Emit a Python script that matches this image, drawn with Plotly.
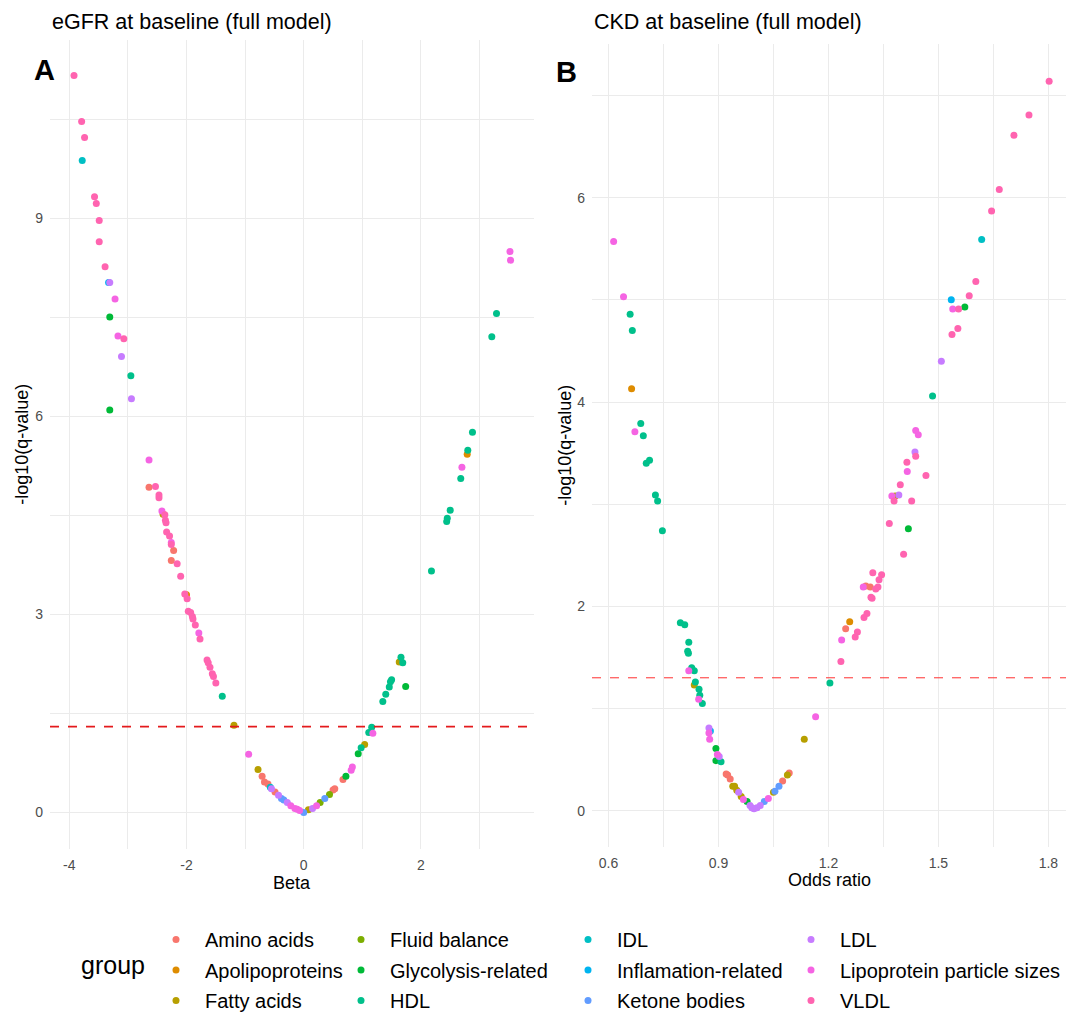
import plotly.graph_objects as go

# ---------------- groups & colours (ggplot2 hue palette) ----------------
GROUPS = ["Amino acids", "Apolipoproteins", "Fatty acids", "Fluid balance",
          "Glycolysis-related", "HDL", "IDL", "Inflamation-related",
          "Ketone bodies", "LDL", "Lipoprotein particle sizes", "VLDL"]
COLORS = ["#F8766D", "#DE8C00", "#B79F00", "#7CAE00", "#00BA38", "#00C08B",
          "#00BFC4", "#00B4F0", "#619CFF", "#C77CFF", "#F564E3", "#FF64B0"]
CODES = {"AA": "Amino acids", "APO": "Apolipoproteins", "FA": "Fatty acids",
         "FB": "Fluid balance", "GLY": "Glycolysis-related", "HDL": "HDL",
         "IDL": "IDL", "INF": "Inflamation-related", "KET": "Ketone bodies",
         "LDL": "LDL", "LPS": "Lipoprotein particle sizes", "VLDL": "VLDL"}

Q_THRESHOLD = 1.301  # -log10(0.05)

# ---------------- panel A: eGFR at baseline ----------------
egfr_beta = [-3.92, -3.79, -3.74, -3.78, -3.57, -3.54, -3.49, -3.49, -3.39, -3.33,
             -3.31, -3.22, -3.31, -3.17, -3.07, -3.11, -2.95, -2.94, -3.31, -2.64,
             -2.64, -2.53, -2.47, -2.47, -2.42, -2.40, -2.37, -2.36, -2.35, -2.34,
             -2.29, -2.26, -2.26, -2.22, -2.26, -2.16, -2.10, -2.03, -2.00, -1.99,
             -1.97, -1.93, -1.90, -1.89, -1.85, -1.79, -1.77, -1.65, -1.63, -1.60,
             -1.56, -1.54, -1.50, -1.39, -1.19, -0.94, -0.78, -0.71, -0.67, -0.61,
             -0.57, -0.55, -0.49, -0.43, -0.38, -0.34, -0.28, -0.22, -0.15, -0.11,
             -0.07, 0.00, 0.08, 0.15, 0.22, 0.28, 0.36, 0.44, 0.50, 0.53,
             0.67, 0.72, 0.81, 0.83, 0.93, 0.98, 1.04, 1.11, 1.16, 1.18,
             1.35, 1.40, 1.46, 1.48, 1.50, 1.66, 1.63, 1.69, 1.74, 2.18,
             2.44, 2.45, 2.50, 2.68, 2.70, 2.79, 2.80, 2.88, 3.21, 3.29,
             3.52, 3.53]
egfr_logq = [11.17, 10.47, 10.23, 9.88, 9.33, 9.23, 8.97, 8.65, 8.27, 8.03,
             8.03, 7.78, 7.51, 7.22, 7.18, 6.91, 6.62, 6.27, 6.10, 5.34,
             4.93, 4.94, 4.81, 4.77, 4.57, 4.52, 4.51, 4.43, 4.39, 4.25,
             4.19, 4.09, 4.06, 3.97, 3.82, 3.77, 3.58, 3.31, 3.30, 3.24,
             3.05, 3.03, 2.97, 2.93, 2.84, 2.72, 2.63, 2.31, 2.27, 2.20,
             2.10, 2.06, 1.96, 1.76, 1.32, 0.88, 0.65, 0.55, 0.46, 0.43,
             0.38, 0.36, 0.31, 0.26, 0.21, 0.19, 0.15, 0.10, 0.06, 0.05,
             0.03, 0.00, 0.04, 0.06, 0.10, 0.15, 0.21, 0.27, 0.34, 0.36,
             0.50, 0.55, 0.64, 0.69, 0.89, 0.98, 1.03, 1.21, 1.29, 1.20,
             1.68, 1.79, 1.90, 1.98, 2.01, 2.35, 2.28, 2.27, 1.91, 3.66,
             4.41, 4.46, 4.58, 5.06, 5.23, 5.43, 5.49, 5.76, 7.21, 7.56,
             8.50, 8.37]
egfr_group = ["VLDL", "VLDL", "VLDL", "IDL", "VLDL", "VLDL", "VLDL", "VLDL", "VLDL", "INF",
              "LDL", "LPS", "GLY", "LPS", "VLDL", "LDL", "HDL", "LDL", "GLY", "LPS",
              "AA", "VLDL", "VLDL", "VLDL", "LPS", "FA", "VLDL", "VLDL", "VLDL", "VLDL",
              "VLDL", "LPS", "VLDL", "AA", "AA", "VLDL", "VLDL", "VLDL", "APO", "VLDL",
              "VLDL", "VLDL", "VLDL", "VLDL", "VLDL", "LPS", "VLDL", "VLDL", "VLDL", "VLDL",
              "VLDL", "VLDL", "VLDL", "HDL", "FA", "LPS", "FA", "AA", "AA", "AA",
              "IDL", "LDL", "AA", "LDL", "KET", "KET", "LDL", "LPS", "LPS", "LPS",
              "LPS", "KET", "FA", "LDL", "LPS", "FB", "KET", "FB", "AA", "AA",
              "AA", "GLY", "LPS", "LPS", "GLY", "HDL", "FA", "HDL", "HDL", "LPS",
              "HDL", "HDL", "HDL", "HDL", "HDL", "HDL", "FA", "HDL", "GLY", "HDL",
              "HDL", "HDL", "HDL", "HDL", "LPS", "APO", "HDL", "HDL", "HDL", "HDL",
              "LPS", "LPS"]

# ---------------- panel B: CKD at baseline ----------------
ckd_or = [1.802, 1.747, 1.706, 1.666, 1.645, 1.618, 1.602, 1.584, 1.535, 1.539,
          1.555, 1.572, 1.553, 1.537, 1.508, 1.484, 1.438, 1.445, 1.436, 1.438,
          1.414, 1.415, 1.466, 1.396, 1.373, 1.382, 1.392, 1.379, 1.427, 1.366,
          1.418, 1.405, 1.321, 1.345, 1.338, 1.295, 1.302, 1.314, 1.329, 1.335,
          1.316, 1.319, 1.305, 1.297, 1.258, 1.247, 1.279, 1.273, 1.236, 1.234,
          1.204, 1.165, 1.134, 1.093, 1.088, 1.075, 1.065, 1.054, 1.050, 1.036,
          1.025, 1.014, 1.005, 0.997, 0.991, 0.986, 0.978, 0.968, 0.962, 0.955,
          0.950, 0.944, 0.939, 0.932, 0.925, 0.921, 0.907, 0.893, 0.902, 0.897,
          0.893, 0.876, 0.874, 0.878, 0.874, 0.856, 0.846, 0.849, 0.847, 0.834,
          0.837, 0.834, 0.827, 0.819, 0.818, 0.816, 0.819, 0.614, 0.641, 0.659,
          0.665, 0.663, 0.688, 0.672, 0.695, 0.703, 0.712, 0.728, 0.734, 0.747,
          0.796, 0.808]
ckd_logq = [7.14, 6.81, 6.61, 6.08, 5.87, 5.59, 5.18, 5.04, 5.00, 4.91,
            4.91, 4.93, 4.72, 4.66, 4.40, 4.06, 3.72, 3.68, 3.51, 3.47,
            3.41, 3.32, 3.28, 3.19, 3.08, 3.08, 3.09, 3.03, 3.03, 2.81,
            2.76, 2.51, 2.33, 2.31, 2.26, 2.19, 2.20, 2.19, 2.17, 2.19,
            2.09, 2.08, 1.93, 1.89, 1.85, 1.78, 1.75, 1.70, 1.67, 1.46,
            1.25, 0.92, 0.70, 0.37, 0.35, 0.29, 0.24, 0.19, 0.18, 0.12,
            0.09, 0.05, 0.03, 0.02, 0.03, 0.05, 0.09, 0.11, 0.14, 0.18,
            0.20, 0.24, 0.24, 0.31, 0.35, 0.36, 0.48, 0.49, 0.53, 0.55,
            0.61, 0.70, 0.76, 0.78, 0.81, 1.05, 1.09, 1.13, 1.19, 1.23,
            1.26, 1.37, 1.40, 1.37, 1.54, 1.56, 1.65, 5.57, 5.03, 4.86,
            4.70, 4.13, 3.79, 3.71, 3.67, 3.40, 3.43, 3.09, 3.03, 2.74,
            1.84, 1.82]
ckd_group = ["VLDL", "VLDL", "VLDL", "VLDL", "VLDL", "IDL", "VLDL", "VLDL", "INF", "LPS",
             "VLDL", "GLY", "VLDL", "VLDL", "LDL", "HDL", "LPS", "LPS", "LDL", "VLDL",
             "VLDL", "LPS", "VLDL", "VLDL", "LPS", "FA", "LDL", "VLDL", "VLDL", "VLDL",
             "GLY", "VLDL", "VLDL", "VLDL", "VLDL", "LPS", "AA", "AA", "VLDL", "VLDL",
             "VLDL", "VLDL", "VLDL", "VLDL", "APO", "AA", "VLDL", "VLDL", "LPS", "VLDL",
             "HDL", "LPS", "FA", "AA", "FA", "AA", "KET", "KET", "FA", "LPS",
             "KET", "LDL", "LDL", "LDL", "LDL", "LDL", "GLY", "LPS", "FA", "LDL",
             "FA", "FA", "FA", "AA", "AA", "AA", "HDL", "GLY", "LDL", "LPS",
             "GLY", "LPS", "LPS", "INF", "LDL", "HDL", "LPS", "HDL", "HDL", "FA",
             "HDL", "HDL", "HDL", "LPS", "HDL", "HDL", "HDL", "LPS", "LPS", "HDL",
             "HDL", "APO", "HDL", "LPS", "HDL", "HDL", "HDL", "HDL", "HDL", "HDL",
             "HDL", "HDL"]

A_XTICKS = [-4, -2, 0, 2]
A_YTICKS = [0, 3, 6, 9]
B_XTICKS = [0.6, 0.9, 1.2, 1.5, 1.8]
B_YTICKS = [0, 2, 4, 6]

FONT = "Liberation Sans, Arial, sans-serif"
W, H = 1066, 1020

fig = go.Figure()

legend_names = ["legend", "legend2", "legend3", "legend4"]


def add_panel(xs, ys, gs, xaxis, yaxis, show):
    for gi, gname in enumerate(GROUPS):
        px = [x for x, g in zip(xs, gs) if CODES[g] == gname]
        py = [y for y, g in zip(ys, gs) if CODES[g] == gname]
        fig.add_trace(go.Scatter(
            x=px, y=py, mode="markers", name=gname, legendgroup=gname,
            legend=legend_names[gi // 3], showlegend=show,
            marker=dict(color=COLORS[gi], size=7, line=dict(width=0)),
            xaxis=xaxis, yaxis=yaxis))


add_panel(egfr_beta, egfr_logq, egfr_group, "x", "y", True)
add_panel(ckd_or, ckd_logq, ckd_group, "x2", "y2", False)

grid_major = dict(showgrid=True, gridcolor="#EBEBEB", gridwidth=1.2, zeroline=False,
                  showline=False, ticks="", automargin=False,
                  tickfont=dict(family=FONT, size=14, color="#4D4D4D"))


def px2paper_x(p):
    return p / W


def px2paper_y(p):
    return 1 - p / H


fig.update_layout(
    width=W, height=H, margin=dict(l=0, r=0, t=0, b=0),
    paper_bgcolor="white", plot_bgcolor="white",
    font=dict(family=FONT, color="black"),
    xaxis=dict(domain=[px2paper_x(50), px2paper_x(534)], range=[-4.33, 3.93],
               tickvals=A_XTICKS, ticktext=[str(v) for v in A_XTICKS],
               minor=dict(dtick=1, tick0=0, showgrid=True, gridcolor="#EBEBEB", gridwidth=0.6),
               ticklabelstandoff=6, anchor="y", **grid_major),
    yaxis=dict(domain=[px2paper_y(861), px2paper_y(41)], range=[-0.557, 11.70],
               tickvals=A_YTICKS, ticktext=[str(v) for v in A_YTICKS],
               minor=dict(dtick=1.5, tick0=0, showgrid=True, gridcolor="#EBEBEB", gridwidth=0.6),
               ticklabelstandoff=6, anchor="x", **grid_major),
    xaxis2=dict(domain=[px2paper_x(592), 1.0], range=[0.555, 1.848],
                tickvals=B_XTICKS, ticktext=[f"{v:.1f}" for v in B_XTICKS],
                minor=dict(dtick=0.15, tick0=0, showgrid=True, gridcolor="#EBEBEB", gridwidth=0.6),
                ticklabelstandoff=6, anchor="y2", **grid_major),
    yaxis2=dict(domain=[px2paper_y(859), px2paper_y(45)], range=[-0.357, 7.50],
                tickvals=B_YTICKS, ticktext=[str(v) for v in B_YTICKS],
                minor=dict(dtick=1, tick0=0, showgrid=True, gridcolor="#EBEBEB", gridwidth=0.6),
                ticklabelstandoff=6, anchor="x2", **grid_major),
    showlegend=True,
)

# threshold lines
fig.add_shape(type="line", xref="x domain", yref="y", x0=0, x1=1,
              y0=Q_THRESHOLD, y1=Q_THRESHOLD, line=dict(color="#E41A1C", width=1.6, dash="dash"))
fig.add_shape(type="line", xref="x2 domain", yref="y2", x0=0, x1=1,
              y0=Q_THRESHOLD, y1=Q_THRESHOLD, line=dict(color="#FF3030", width=1.0, dash="dash"))

# legends: 4 columns of 3 entries
leg_x = [147, 332, 559, 782]
for i, ln in enumerate(legend_names):
    fig.update_layout({ln: dict(
        x=px2paper_x(leg_x[i]), y=px2paper_y(933), xanchor="left", yanchor="top",
        orientation="v", bgcolor="rgba(0,0,0,0)", borderwidth=0,
        font=dict(family=FONT, size=20, color="black"),
        itemwidth=48, tracegroupgap=1.5, traceorder="grouped")})

ann = [
    dict(text="eGFR at baseline (full model)", x=px2paper_x(50), y=px2paper_y(22),
         xanchor="left", yanchor="middle", font=dict(size=21.5)),
    dict(text="CKD at baseline (full model)", x=px2paper_x(592), y=px2paper_y(22),
         xanchor="left", yanchor="middle", font=dict(size=21.5)),
    dict(text="<b>A</b>", x=px2paper_x(44), y=px2paper_y(71),
         xanchor="center", yanchor="middle", font=dict(size=29)),
    dict(text="<b>B</b>", x=px2paper_x(566), y=px2paper_y(73),
         xanchor="center", yanchor="middle", font=dict(size=29)),
    dict(text="-log10(q-value)", x=px2paper_x(22), y=px2paper_y(451), textangle=-90,
         xanchor="center", yanchor="middle", font=dict(size=18)),
    dict(text="-log10(q-value)", x=px2paper_x(565), y=px2paper_y(452), textangle=-90,
         xanchor="center", yanchor="middle", font=dict(size=18)),
    dict(text="Beta", x=px2paper_x(292), y=px2paper_y(895),
         xanchor="center", yanchor="middle", font=dict(size=18)),
    dict(text="Odds ratio", x=px2paper_x(829), y=px2paper_y(892),
         xanchor="center", yanchor="middle", font=dict(size=18)),
    dict(text="group", x=px2paper_x(113), y=px2paper_y(978),
         xanchor="center", yanchor="middle", font=dict(size=25)),
]
for a in ann:
    a.update(xref="paper", yref="paper", showarrow=False)
    a["font"].update(family=FONT, color="black")
fig.update_layout(annotations=ann)

fig.write_html("out.html")
